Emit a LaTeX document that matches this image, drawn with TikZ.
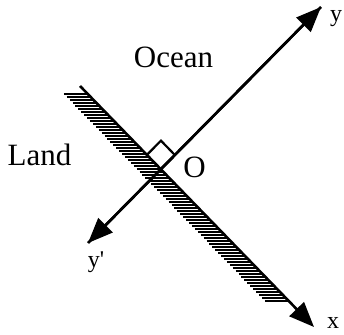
\documentclass[tikz,border=0pt]{standalone}
\usepackage{fontspec}
\setmainfont{Liberation Serif}
\usetikzlibrary{arrows.meta,calc}
\begin{document}
\begin{tikzpicture}[x=1pt,y=-1pt,
  axis/.style={line width=2.6pt,line cap=butt},
  tip/.style={-{Triangle[length=25pt,width=20pt]}},
  hatchline/.style={line width=1.4pt},
  bigtext/.style={font=\fontsize{31}{34}\selectfont,inner sep=0pt,anchor=base},
  smalltext/.style={font=\fontsize{24}{26}\selectfont,inner sep=0pt,anchor=base}]
\useasboundingbox (0,0) rectangle (344,334);
\coordinate (c1) at (80,86);
\coordinate (xt) at (314,327);
\coordinate (yp) at (88,243);
\coordinate (yt) at (321,7);
% hatching on the land side
\foreach \yy in {94,97,...,302}
  \draw[hatchline] ({80+(\yy-86)*0.971-24},\yy) -- ({80+(\yy-86)*0.971},\yy);
% coastline / x axis
\draw[axis,tip] (c1) -- (xt);
% y axis
\draw[axis,tip] (yp) -- (yt);
\draw[axis,tip] (yt) -- (yp);
\coordinate (O) at (intersection of c1--xt and yp--yt);
% right angle mark
\coordinate (r1) at ($(O)!20pt!(c1)$);
\coordinate (r2) at ($(O)!20pt!(yt)$);
\draw[line width=2.2pt] (r1) -- ($(r1)+(r2)-(O)$) -- (r2);
% labels
\node[bigtext] (ocean) at (173.5,67) {Ocean};
\node[bigtext] (land) at (39.5,165) {Land};
\node[bigtext] (olab) at (194.5,177) {O};
\node[smalltext] (ylab) at (336,22) {y};
\node[smalltext] (xlab) at (333,328) {x};
\node[smalltext] (yplab) at (96,267) {y\textquotesingle};
\end{tikzpicture}
\end{document}
